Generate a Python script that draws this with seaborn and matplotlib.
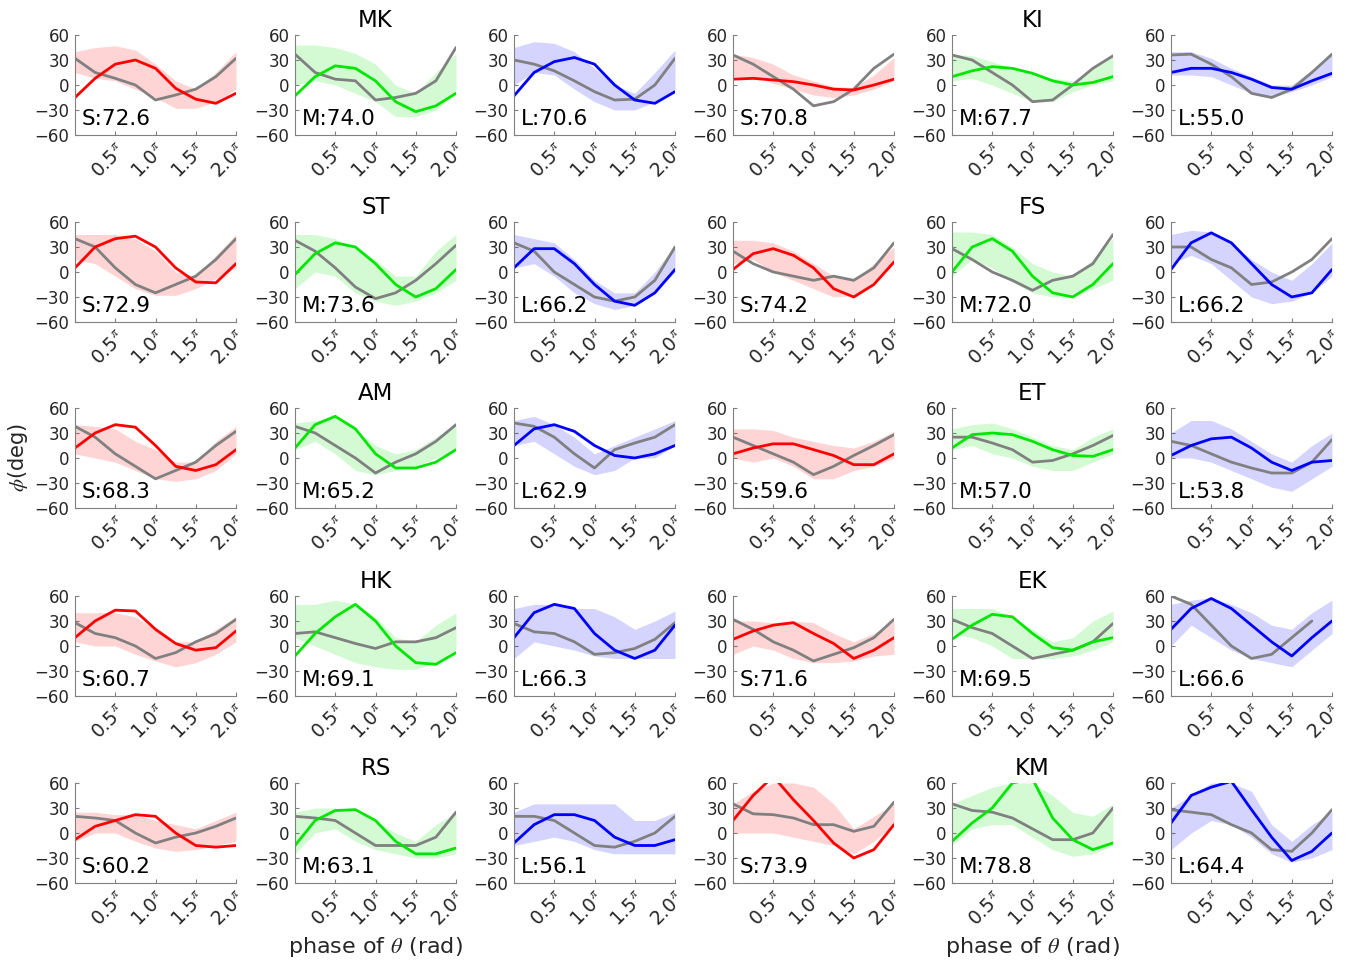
import numpy as np
import pandas as pd
import matplotlib
matplotlib.use("Agg")
import matplotlib.pyplot as plt
import seaborn as sns

phase_pi = [0, 0.25, 0.5, 0.75, 1.0, 1.25, 1.5, 1.75, 2.0]

speeds = ["S", "M", "L"]
colors = [(1, 0, 0), (0, 0.9, 0), (0, 0, 1)]
ref_color = (0.5, 0.5, 0.5)

# subject layout: rows of (left subject, right subject)
layout = [("MK", "KI"), ("ST", "FS"), ("AM", "ET"), ("HK", "EK"), ("RS", "KM")]

scores = {
    "MK": [72.6, 74.0, 70.6], "KI": [70.8, 67.7, 55.0],
    "ST": [72.9, 73.6, 66.2], "FS": [74.2, 72.0, 66.2],
    "AM": [68.3, 65.2, 62.9], "ET": [59.6, 57.0, 53.8],
    "HK": [60.7, 69.1, 66.3], "EK": [71.6, 69.5, 66.6],
    "RS": [60.2, 63.1, 56.1], "KM": [73.9, 78.8, 64.4],
}

# mean trajectory per speed (S, M, L), reference (gray) mean, and trial spread
mk_mean = [[-15, 8, 25, 30, 20, -4, -17, -22, -10],
           [-13, 10, 23, 20, 5, -20, -32, -25, -10],
           [-13, 15, 28, 33, 25, 0, -18, -22, -8]]
mk_ref = [[32, 15, 8, 0, -18, -12, -5, 10, 32],
          [37, 15, 7, 5, -18, -15, -10, 5, 45],
          [30, 25, 17, 5, -8, -18, -17, 0, 32]]
mk_lo = [[15, 8, 5, -5, -15, -28, -28, -20, -5],
         [0, 5, 0, -10, -20, -38, -38, -30, -10],
         [0, 15, 12, -5, -20, -30, -30, -20, -5]]
mk_hi = [[40, 45, 47, 42, 25, 5, -5, 15, 40],
         [48, 48, 45, 38, 25, 0, -10, 15, 38],
         [45, 52, 50, 40, 20, 0, -10, 15, 42]]

ki_mean = [[7, 8, 6, 4, 0, -5, -6, 0, 7],
           [10, 17, 22, 20, 14, 5, 0, 3, 10],
           [15, 20, 20, 15, 7, -3, -5, 5, 14]]
ki_ref = [[36, 25, 10, -5, -25, -20, -5, 20, 37],
          [36, 30, 15, 0, -20, -18, 0, 20, 35],
          [36, 37, 25, 10, -10, -15, -5, 15, 37]]
ki_lo = [[10, 10, 2, -5, -12, -15, -12, -5, 5],
         [5, 8, 0, -10, -20, -20, -8, 0, 5],
         [12, 12, 10, 0, -10, -15, -8, 0, 10]]
ki_hi = [[37, 33, 25, 12, 5, -2, -3, 12, 33],
         [37, 35, 28, 20, 15, 8, 5, 20, 35],
         [40, 40, 32, 20, 10, 0, 0, 18, 37]]

st_mean = [[5, 30, 40, 43, 30, 5, -12, -13, 10],
           [-3, 22, 35, 30, 10, -15, -30, -20, 3],
           [5, 28, 28, 10, -15, -35, -40, -25, 3]]
st_ref = [[40, 30, 5, -15, -25, -15, -5, 15, 40],
          [38, 25, 5, -18, -32, -25, -10, 10, 32],
          [35, 25, 0, -15, -30, -35, -30, -10, 30]]
st_lo = [[15, 10, -5, -20, -28, -28, -20, -8, 5],
         [-20, 0, -5, -25, -35, -40, -35, -25, -10],
         [5, 10, -5, -25, -38, -45, -40, -25, 0]]
st_hi = [[45, 45, 45, 40, 25, 0, -5, 20, 45],
         [45, 45, 40, 30, 15, -5, -5, 25, 45],
         [45, 40, 35, 15, -10, -25, -25, 0, 32]]

fs_mean = [[3, 22, 28, 20, 5, -20, -30, -15, 12],
           [0, 30, 40, 25, -5, -25, -30, -15, 10],
           [3, 35, 47, 35, 10, -15, -30, -25, 3]]
fs_ref = [[25, 10, 0, -5, -10, -5, -10, 5, 35],
          [28, 15, 0, -10, -22, -10, -5, 10, 45],
          [30, 30, 15, 5, -15, -12, 0, 15, 40]]
fs_lo = [[10, 15, 0, -10, -20, -30, -28, -12, 10],
         [-5, 15, 5, -12, -25, -30, -30, -20, -10],
         [10, 20, 10, -10, -30, -38, -35, -25, -5]]
fs_hi = [[38, 38, 35, 25, 10, -5, -10, 10, 30],
         [48, 48, 45, 30, 10, 0, -5, 15, 40],
         [45, 50, 48, 35, 15, 0, -10, 10, 35]]

am_mean = [[12, 30, 40, 37, 15, -10, -15, -8, 10],
           [12, 40, 50, 35, 5, -12, -12, -5, 10],
           [15, 35, 40, 32, 15, 3, 0, 5, 15]]
am_ref = [[38, 25, 5, -10, -25, -15, -5, 15, 32],
          [38, 30, 15, 0, -18, -5, 5, 20, 40],
          [42, 38, 25, 5, -12, 10, 18, 25, 40]]
am_lo = [[5, 0, -5, -15, -25, -28, -25, -15, 5],
         [10, 20, 5, -15, -20, -15, -10, 0, 10],
         [15, 20, 5, -10, -20, -15, 0, 0, 15]]
am_hi = [[40, 38, 35, 20, 10, -5, -5, 20, 38],
         [42, 45, 50, 35, 15, 5, 10, 25, 42],
         [45, 50, 40, 25, 5, 15, 25, 35, 45]]

et_mean = [[5, 12, 17, 17, 10, 3, -8, -8, 5],
           [12, 28, 30, 28, 20, 10, 3, 2, 10],
           [3, 15, 23, 25, 12, -5, -15, -5, -3]]
et_ref = [[25, 15, 5, -5, -20, -10, 3, 15, 28],
          [25, 25, 18, 10, -5, -3, 5, 15, 27],
          [20, 15, 5, -5, -12, -18, -18, -5, 22]]
et_lo = [[0, -5, 0, -10, -25, -25, -15, -10, 0],
         [10, 15, 5, 0, -10, -15, -15, -5, 5],
         [0, 0, -5, -15, -25, -35, -40, -25, -10]]
et_hi = [[35, 35, 33, 25, 20, 15, 12, 20, 32],
         [35, 40, 42, 35, 25, 15, 10, 25, 35],
         [30, 45, 45, 35, 20, 5, -5, 15, 30]]

hk_mean = [[10, 30, 43, 42, 20, 3, -5, -2, 18],
           [-12, 15, 35, 50, 30, 0, -20, -22, -8],
           [10, 40, 50, 45, 15, -5, -15, -5, 25]]
hk_ref = [[28, 15, 10, 0, -15, -8, 5, 15, 32],
          [15, 17, 10, 3, -3, 5, 5, 10, 22],
          [27, 17, 15, 5, -10, -8, -3, 8, 28]]
hk_lo = [[5, 0, 0, -10, -18, -25, -20, -10, 5],
         [10, 0, -10, -20, -25, -28, -28, -20, -5],
         [-15, 5, 0, -5, -12, -15, -15, -15, -15]]
hk_hi = [[40, 40, 40, 35, 20, 5, 5, 20, 35],
         [50, 50, 55, 50, 35, 10, 5, 25, 40],
         [45, 50, 50, 45, 45, 35, 20, 30, 42]]

ek_mean = [[8, 18, 25, 28, 15, 3, -15, -5, 10],
           [8, 25, 38, 35, 15, -2, -5, 5, 10],
           [20, 45, 57, 45, 25, 5, -12, 10, 30]]
ek_ref = [[32, 20, 5, -5, -18, -10, -2, 10, 32],
          [32, 22, 15, 0, -15, -10, -5, 5, 27],
          [60, 50, 25, 0, -15, -10, 10, 30, np.nan]]
ek_lo = [[-10, 0, -5, -15, -20, -20, -18, -12, -10],
         [15, 10, 0, -15, -15, -15, -12, -5, 5],
         [0, 25, 10, -5, -15, -20, -25, -5, 15]]
ek_hi = [[30, 30, 28, 30, 28, 15, 5, 15, 30],
         [45, 45, 45, 35, 20, 5, 10, 30, 42],
         [50, 55, 58, 50, 40, 25, 20, 40, 55]]

rs_mean = [[-8, 8, 15, 22, 20, 0, -15, -17, -15],
           [-15, 15, 27, 28, 15, -10, -25, -25, -18],
           [-12, 10, 22, 22, 15, -5, -15, -15, -8]]
rs_ref = [[20, 18, 15, 0, -12, -5, 0, 8, 18],
          [20, 18, 15, 0, -15, -15, -15, -5, 25],
          [20, 20, 15, 0, -15, -17, -10, 0, 20]]
rs_lo = [[-10, 0, 0, -10, -18, -22, -20, -15, -10],
         [-25, 0, 5, -10, -20, -25, -30, -30, -25],
         [-15, -10, -5, -10, -20, -25, -25, -25, -25]]
rs_hi = [[25, 25, 22, 22, 15, 10, 5, 15, 25],
         [25, 30, 30, 25, 15, 0, -10, 10, 25],
         [25, 35, 35, 35, 35, 35, 15, 15, 25]]

km_mean = [[15, 45, 68, 40, 15, -12, -30, -20, 10],
           [-10, 12, 30, 60, 65, 18, -8, -20, -12],
           [12, 45, 55, 62, 28, -5, -33, -22, 0]]
km_ref = [[35, 23, 22, 18, 10, 10, 2, 8, 37],
          [35, 27, 25, 18, 5, -8, -8, 0, 30],
          [28, 25, 22, 10, 0, -20, -22, 0, 28]]
km_lo = [[0, 0, 0, -5, -10, -15, -25, -10, 10],
         [-15, 5, 10, 10, -5, -20, -28, -25, -15],
         [-20, 0, 15, 10, -5, -25, -35, -30, -20]]
km_hi = [[35, 50, 60, 60, 55, 35, 5, 20, 35],
         [35, 45, 55, 60, 60, 45, 25, 20, 35],
         [30, 45, 60, 60, 50, 10, -10, 10, 25]]

curves = {
    "MK": (mk_mean, mk_ref, mk_lo, mk_hi), "KI": (ki_mean, ki_ref, ki_lo, ki_hi),
    "ST": (st_mean, st_ref, st_lo, st_hi), "FS": (fs_mean, fs_ref, fs_lo, fs_hi),
    "AM": (am_mean, am_ref, am_lo, am_hi), "ET": (et_mean, et_ref, et_lo, et_hi),
    "HK": (hk_mean, hk_ref, hk_lo, hk_hi), "EK": (ek_mean, ek_ref, ek_lo, ek_hi),
    "RS": (rs_mean, rs_ref, rs_lo, rs_hi), "KM": (km_mean, km_ref, km_lo, km_hi),
}

sns.set_style("ticks")
plt.rcParams["font.family"] = ["DejaVu Sans"]
plt.rcParams["mathtext.fontset"] = "stix"

W, H = 1359, 965
fig = plt.figure(figsize=(W / 100, H / 100), dpi=100)

col_left = [75, 295, 514, 733, 952, 1171]
row_top = [35, 222, 408, 596, 783]
ax_w, ax_h = 161, 100

phase = np.array(phase_pi) * np.pi
xt = [0.5 * np.pi, np.pi, 1.5 * np.pi, 2 * np.pi]
xtl = [r"0.5$^{\pi}$", r"1.0$^{\pi}$", r"1.5$^{\pi}$", r"2.0$^{\pi}$"]
txt_col = "0.15"

for r, pair in enumerate(layout):
    for g, subj in enumerate(pair):
        mean, ref, lo, hi = curves[subj]
        for k in range(3):
            c = g * 3 + k
            ax = fig.add_axes([col_left[c] / W, 1 - (row_top[r] + ax_h) / H,
                               ax_w / W, ax_h / H])
            df = pd.DataFrame({"phase": phase, "mean": mean[k], "ref": ref[k],
                               "lo": lo[k], "hi": hi[k]})
            ax.fill_between(df["phase"], df["lo"], df["hi"], color=colors[k],
                            alpha=0.17, lw=0)
            sns.lineplot(data=df, x="phase", y="ref", ax=ax, color=ref_color, lw=2)
            sns.lineplot(data=df, x="phase", y="mean", ax=ax, color=colors[k], lw=2)
            ax.set_xlim(0, 2 * np.pi)
            ax.set_ylim(-60, 60)
            ax.set_yticks([-60, -30, 0, 30, 60])
            ax.set_xticks(xt)
            ax.set_xticklabels(xtl, rotation=45, ha="right", va="top",
                               rotation_mode="anchor")
            ax.set_xlabel("")
            ax.set_ylabel("")
            ax.tick_params(direction="in", length=3, labelsize=12,
                           colors="0.5", labelcolor=txt_col, pad=4)
            for lab in ax.get_xticklabels():
                lab.set_fontsize(13.5)
            sns.despine(ax=ax)
            for s in ("left", "bottom"):
                ax.spines[s].set_color("0.5")
            ax.text(0.04, 0.06, f"{speeds[k]}:{scores[subj][k]:.1f}",
                    transform=ax.transAxes, fontsize=15.5, color="k",
                    va="bottom", ha="left")
            if k == 1:
                ax.set_title(subj, fontsize=16.5, color="k", pad=6)

fig.text(18 / W, 1 - 458 / H, r"$\phi$(deg)", rotation=90, fontsize=15,
         ha="center", va="center", color=txt_col)
for cx in (375, 1032):
    fig.text(cx / W, 1 - 947 / H, r"phase of $\theta$ (rad)", fontsize=16,
             ha="center", va="center", color=txt_col)

fig.savefig("out.png", dpi=100)
